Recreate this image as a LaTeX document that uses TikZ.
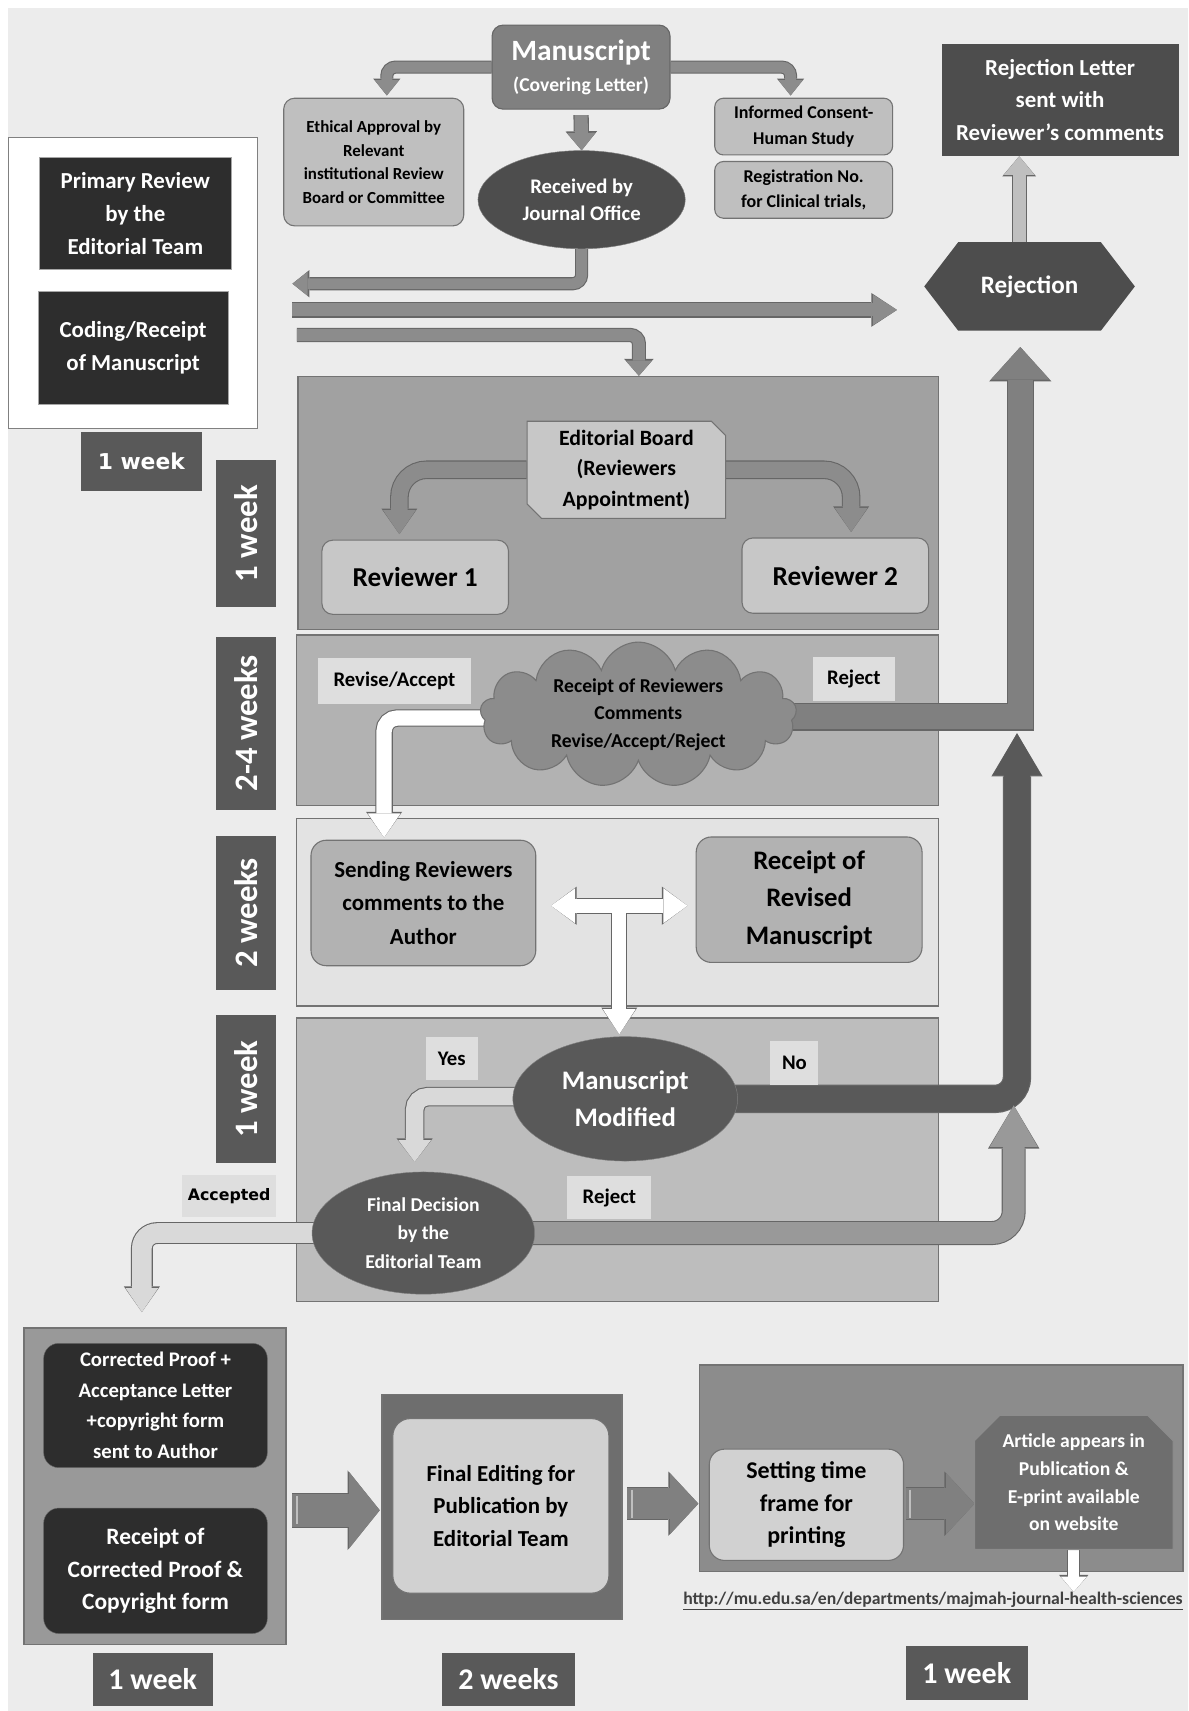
\documentclass[tikz,border=0pt]{standalone}
\usepackage{fontspec}
\setmainfont{Carlito}
\newfontfamily\verd{DejaVu Sans}
\usetikzlibrary{arrows.meta,shapes.geometric,shapes.misc,shapes.symbols,calc}

\definecolor{dk}{HTML}{4D4D4D}
\definecolor{dker}{HTML}{2D2D2D}
\definecolor{md}{HTML}{595959}
\definecolor{ar}{HTML}{8C8C8C}
\definecolor{lt}{HTML}{BFBFBF}
\definecolor{bg}{HTML}{ECECEC}

\newcommand{\fsz}[2]{\fontsize{#1}{#2}\selectfont}

\pgfdeclarelayer{back}
\pgfdeclarelayer{mid}
\pgfsetlayers{back,mid,main}

\tikzset{
    txt/.style =    {align=center,
                    inner sep=0pt,
                    font=\bfseries},
    panel/.style =  {rectangle,
                    draw=black!55,
                    line width=1.2pt,
                    inner sep=0pt},
    lbox/.style =   {txt,
                    rectangle,
                    rounded corners=10pt,
                    draw=black!55,
                    line width=1pt,
                    fill=lt},
    dbox/.style =   {txt,
                    rectangle,
                    fill=dk,
                    text=white},
    wk/.style =     {txt,
                    rectangle,
                    fill=md,
                    text=white},
    tag/.style =    {txt,
                    rectangle,
                    fill=black!13,
                    font=\bfseries\fsz{19}{19}},
    band/.style n args={4}{draw=#1, line width=#2,
                    -{Triangle[width=#3,length=#4,line width=0pt]},
                    preaction={draw=black!60, line width=#2+2pt,
                    -{Triangle[width=#3+3pt,length=#4+1.5pt,line width=0pt]}}},
    dband/.style n args={4}{draw=#1, line width=#2,
                    {Triangle[width=#3,length=#4,line width=0pt]}-{Triangle[width=#3,length=#4,line width=0pt]},
                    preaction={draw=black!60, line width=#2+2pt,
                    {Triangle[width=#3+3pt,length=#4+1.5pt,line width=0pt]}-{Triangle[width=#3+3pt,length=#4+1.5pt,line width=0pt]}}}
}

\begin{document}
\begin{tikzpicture}[x=1pt,y=-1pt]
\useasboundingbox (0,0) rectangle (1089,1568);

% background and panels
\begin{pgfonlayer}{back}
    \fill[white] (0,0) rectangle (1089,1568);
    \fill[bg] (7,7) rectangle (1089,1568);
    \node[panel, fill=white, draw=black!50, minimum width=228pt, minimum height=267pt] (wbox) at (122,259.5) {};
    \node[panel, fill=black!37, minimum width=587pt, minimum height=232pt] (p1) at (566.5,461) {};
    \node[panel, fill=black!30, minimum width=588pt, minimum height=156pt] (p2) at (566,660) {};
    \node[panel, fill=black!11, minimum width=588pt, minimum height=172pt] (p3) at (566,836) {};
    \node[panel, fill=black!26, minimum width=588pt, minimum height=260pt] (p4) at (566,1063) {};
    \node[panel, fill=black!40, minimum width=240pt, minimum height=290pt] (bl) at (142,1362) {};
    \node[panel, fill=black!57, minimum width=220pt, minimum height=206pt] (bm) at (460,1381) {};
    \node[panel, fill=black!45, minimum width=443pt, minimum height=189pt] (br) at (862.5,1345.5) {};
\end{pgfonlayer}

% top row
\node[lbox, fill=black!50, text=white, draw=black!60, minimum width=163pt, minimum height=77pt,
      font=\bfseries\fsz{18}{28}] (ms) at (532.5,61.5) {{\fsz{27}{30}Manuscript}\\(Covering Letter)};
\node[lbox, minimum width=165pt, minimum height=117pt, font=\bfseries\fsz{15.5}{21.5}] (eth) at (342.5,148.5)
      {Ethical Approval by\\Relevant\\institutional Review\\Board or Committee};
\node[txt, ellipse, fill=dk, text=white, draw=black!50, minimum width=190pt, minimum height=90pt,
      font=\bfseries\fsz{19}{25}] (recv) at (533,183) {Received by\\Journal Office};
\node[lbox, rounded corners=8pt, minimum width=163pt, minimum height=52pt, font=\bfseries\fsz{16.5}{23}] (cons) at (736.5,116)
      {Informed Consent-\\Human Study};
\node[lbox, rounded corners=8pt, minimum width=163pt, minimum height=52pt, font=\bfseries\fsz{16.5}{23}] (reg) at (736.5,174)
      {Registration No.\\for Clinical trials,};
\node[dbox, minimum width=217pt, minimum height=103pt, font=\bfseries\fsz{21}{30}] (rlet) at (971.5,91.5)
      {Rejection Letter\\sent with\\Reviewer’s comments};
\node[txt, signal, signal to=west and east, signal pointer angle=105, fill=dk, text=white,
      minimum width=193pt, minimum height=81pt, font=\bfseries\fsz{23}{23}] (rej) at (943.5,262.5) {Rejection};

% left column
\node[dbox, fill=dker, draw=black!35, minimum width=176pt, minimum height=103pt, font=\bfseries\fsz{21}{30}] (prim) at (124,195.5)
      {Primary Review\\by the\\Editorial Team};
\node[dbox, fill=dker, draw=black!35, minimum width=174pt, minimum height=103pt, font=\bfseries\fsz{21}{30}] (code) at (122,318.5)
      {Coding/Receipt\\of Manuscript};
\node[wk, minimum width=111pt, minimum height=54pt, font=\verd\bfseries\fsz{20}{20}] (wk0) at (129.5,423) {1 week};
\node[wk, rotate=90, minimum width=134pt, minimum height=55pt, font=\bfseries\fsz{30}{30}] (wk1) at (225.5,489) {1 week};
\node[wk, rotate=90, minimum width=158pt, minimum height=55pt, font=\bfseries\fsz{30}{30}] (wk2) at (225.5,663) {2-4 weeks};
\node[wk, rotate=90, minimum width=141pt, minimum height=55pt, font=\bfseries\fsz{30}{30}] (wk3) at (225.5,836.5) {2 weeks};
\node[wk, rotate=90, minimum width=136pt, minimum height=55pt, font=\bfseries\fsz{30}{30}] (wk4) at (225.5,998) {1 week};

% reviewers
\node[txt, chamfered rectangle, chamfered rectangle corners={north east,south west}, chamfered rectangle xsep=10pt,
      fill=black!22, draw=black!55, line width=1pt, minimum width=182pt, minimum height=89pt,
      font=\bfseries\fsz{20}{28}] (eb) at (574,430.5) {Editorial Board\\(Reviewers\\Appointment)};
\node[lbox, fill=black!22, minimum width=171pt, minimum height=68pt, font=\bfseries\fsz{25}{25}] (rv1) at (380.5,529) {Reviewer 1};
\node[lbox, fill=black!22, minimum width=171pt, minimum height=69pt, font=\bfseries\fsz{25}{25}] (rv2) at (765.5,527.5) {Reviewer 2};

% comments
\node[tag, minimum width=141pt, minimum height=42pt] (tra) at (361.5,624) {Revise/Accept};
\node[txt, cloud, cloud puffs=13, cloud ignores aspect, fill=black!45, draw=black!55, line width=1pt,
      minimum width=290pt, minimum height=130pt, font=\bfseries\fsz{18}{25.5}] (cld) at (585,655)
      {Receipt of Reviewers\\Comments\\Revise/Accept/Reject};
\node[tag, minimum width=75pt, minimum height=40pt] (trj) at (782.5,622) {Reject};

% revision
\node[lbox, fill=black!30, rounded corners=14pt, minimum width=206pt, minimum height=115pt, font=\bfseries\fsz{21}{30.5}] (snd) at (388,827.5)
      {Sending Reviewers\\comments to the\\Author};
\node[lbox, fill=black!30, rounded corners=14pt, minimum width=207pt, minimum height=115pt, font=\bfseries\fsz{24.5}{34}] (rcv) at (741.5,824.5)
      {Receipt of\\Revised\\Manuscript};

% decision
\node[tag, minimum width=48pt, minimum height=40pt] (tyes) at (414,970) {Yes};
\node[txt, ellipse, fill=md, text=white, draw=black!50, minimum width=206pt, minimum height=114pt,
      font=\bfseries\fsz{24.5}{34}] (mm) at (573,1007) {Manuscript\\Modified};
\node[tag, minimum width=44pt, minimum height=40pt] (tno) at (728,974) {No};
\node[tag, minimum width=86pt, minimum height=38pt, font=\verd\bfseries\fsz{14.5}{14.5}] (tacc) at (210,1096) {Accepted};
\node[txt, ellipse, fill=md, text=white, draw=black!50, minimum width=204pt, minimum height=112pt,
      font=\bfseries\fsz{18}{26}] (fd) at (388,1130) {Final Decision\\by the\\Editorial Team};
\node[tag, minimum width=77pt, minimum height=39pt] (trj2) at (558.5,1097.5) {Reject};

% publication
\node[dbox, fill=dker, draw=black!60, rounded corners=14pt, minimum width=205pt, minimum height=114pt, font=\bfseries\fsz{19}{28}] (cp) at (142.5,1288)
      {Corrected Proof +\\Acceptance Letter\\+copyright form\\sent to Author};
\node[dbox, fill=dker, draw=black!60, rounded corners=14pt, minimum width=205pt, minimum height=115pt, font=\bfseries\fsz{21.5}{30}] (rcp) at (142.5,1439.5)
      {Receipt of\\Corrected Proof \&\\Copyright form};
\node[lbox, fill=black!18, rounded corners=16pt, minimum width=198pt, minimum height=160pt, font=\bfseries\fsz{21}{30}] (fe) at (459,1380)
      {Final Editing for\\Publication by\\Editorial Team};
\node[lbox, fill=black!18, rounded corners=14pt, minimum width=178pt, minimum height=102pt, font=\bfseries\fsz{22}{30}] (st) at (739,1379)
      {Setting time\\frame for\\printing};
\node[txt, chamfered rectangle, chamfered rectangle corners={north east,north west}, chamfered rectangle xsep=20pt,
      fill=black!57, draw=black!45, line width=1pt, text=white, minimum width=182pt, minimum height=123pt,
      font=\bfseries\fsz{18}{25.5}] (art) at (984,1358.5) {Article appears in\\Publication \&\\E-print available\\on website};
\node[txt, text=black!75, font=\bfseries\fsz{16.2}{16.2}] (url) at (855,1467)
      {\underline{http://mu.edu.sa/en/departments/majmah-journal-health-sciences}};
\node[wk, minimum width=110pt, minimum height=48pt, font=\bfseries\fsz{27.5}{27.5}] (wk5) at (140,1539) {1 week};
\node[wk, minimum width=122pt, minimum height=48pt, font=\bfseries\fsz{27.5}{27.5}] (wk6) at (466,1539) {2 weeks};
\node[wk, minimum width=112pt, minimum height=50pt, font=\bfseries\fsz{27.5}{27.5}] (wk7) at (886,1533) {1 week};

% connectors
\coordinate (lt1) at (268,260);
\coordinate (lt2) at (268,284);
\coordinate (rt2) at (822,284);
\coordinate (lt3) at (272,307);
\coordinate (cr) at (935,318);
\coordinate (tl) at (505,830);
\coordinate (tr) at (630,830);
\coordinate (tm) at (567.5,830);
\coordinate (nt) at (932,672);
\coordinate (rt) at (929,1013);
\coordinate (a1s) at (268,1384);
\coordinate (a1e) at (348,1384);
\coordinate (a2s) at (575,1378);
\coordinate (a2e) at (640,1378);
\coordinate (a3s) at (830,1378);
\coordinate (a3e) at (893,1378);

\begin{pgfonlayer}{mid}
    \draw[band={ar}{10pt}{22pt}{14pt}, rounded corners=8pt] (ms.west) -| ([xshift=12pt,yshift=2pt]eth.north);
    \draw[band={ar}{10pt}{22pt}{14pt}, rounded corners=8pt] (ms.east) -| ([xshift=-12pt,yshift=2pt]cons.north);
    \draw[band={ar}{12pt}{26pt}{16pt}] ([yshift=-5pt]ms.south) -- (recv.north);
    \draw[band={ar}{10pt}{22pt}{14pt}, rounded corners=8pt] (recv.south) |- (lt1);
    \draw[band={ar}{12pt}{28pt}{22pt}] (lt2) -- (rt2);
    \draw[band={ar}{11pt}{24pt}{14pt}, rounded corners=8pt] (lt3) -| ([xshift=19pt]p1.north);
    \draw[band={lt}{12pt}{28pt}{17pt}] ([xshift=-9.5pt]rej.north) -- ([xshift=-37.5pt]rlet.south);

    \draw[band={ar}{15pt}{30pt}{22pt}, rounded corners=25pt] (eb.west) -| ([xshift=-14.5pt,yshift=5pt]rv1.north);
    \draw[band={ar}{15pt}{30pt}{22pt}, rounded corners=25pt] (eb.east) -| ([xshift=14.5pt,yshift=5pt]rv2.north);
    \draw[band={black!50}{23pt}{54pt}{30pt}] ([xshift=-10pt,yshift=-2pt]cld.east) -| (cr);
    \draw[band={white}{14pt}{30pt}{22pt}, rounded corners=12pt] ([xshift=10pt,yshift=-3pt]cld.west) -| ([xshift=-36pt,yshift=2pt]snd.north);

    \draw[band={white}{13pt}{30pt}{23pt}] (tm) -- ([xshift=-5.5pt,yshift=2pt]mm.north);
    \draw[dband={white}{13pt}{32pt}{22pt}] (tl) -- (tr);
    \draw[white, line width=13pt] ([yshift=-4pt]tm) -- ([yshift=-12pt]tm);

    \draw[band={black!15}{16pt}{30pt}{20pt}, rounded corners=12pt] ([xshift=10pt,yshift=2pt]mm.west) -| ([xshift=-8pt,yshift=9pt]fd.north);
    \draw[band={md}{24pt}{44pt}{38pt}, rounded corners=20pt] ([xshift=-10pt]mm.east) -| (nt);
    \draw[band={black!40}{20pt}{44pt}{38pt}, rounded corners=20pt] ([xshift=-10pt]fd.east) -| (rt);
    \draw[band={black!15}{18pt}{30pt}{22pt}, rounded corners=14pt] ([xshift=10pt]fd.west) -| ([xshift=-12pt,yshift=14pt]bl.north);

    \draw[band={black!50}{30pt}{70pt}{28pt}] (a1s) -- (a1e);
    \draw[band={black!50}{28pt}{56pt}{26pt}] (a2s) -- (a2e);
    \draw[band={black!50}{28pt}{56pt}{26pt}] (a3s) -- (a3e);
    \foreach \s in {a1s,a2s,a3s}
        \draw[black!25, line width=1.5pt] ([xshift=4pt,yshift=13pt]\s) -- ([xshift=4pt,yshift=-13pt]\s);
    \draw[band={white}{10pt}{24pt}{14pt}] (art.south) -- (art.south |- url.north);
\end{pgfonlayer}
\end{tikzpicture}
\end{document}
